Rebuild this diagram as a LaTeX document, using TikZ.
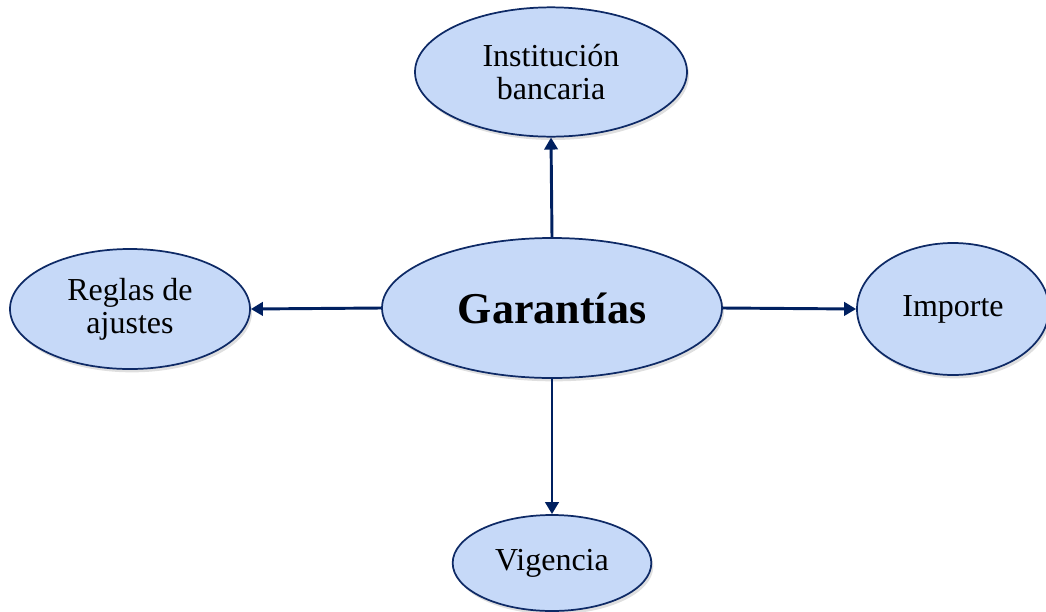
\documentclass[tikz,border=0pt]{standalone}
\usepackage{fontspec}
\setmainfont{Liberation Serif}
\usetikzlibrary{shapes.geometric,shadows,arrows.meta}
\definecolor{ellfill}{HTML}{C6D9F8}
\definecolor{navy}{HTML}{0E2A66}
\definecolor{arrowc}{HTML}{002060}
\begin{document}
\begin{tikzpicture}[x=0.75pt,y=-0.75pt,
  bubble/.style={ellipse,draw=navy,line width=1.3pt,fill=ellfill,inner sep=0pt,
    align=center,font=\fontsize{24}{25}\selectfont,
    drop shadow={opacity=0.25,shadow xshift=1.5pt,shadow yshift=-2.5pt}},
  conn/.style={draw=arrowc,line width=2.2pt,-{Triangle[length=9pt,width=10pt]}}]
\useasboundingbox (0,0) rectangle (1046,611);
\begin{scope}
\clip (0,0) rectangle (1046,611);
\node[bubble,minimum width=255pt,minimum height=105pt,font=\fontsize{33}{35}\selectfont\bfseries] (c) at (552,308) {Garantías};
\node[bubble,minimum width=204pt,minimum height=97pt] (t) at (551,72) {Institución\\bancaria};
\node[bubble,minimum width=180pt,minimum height=90pt] (l) at (130,309) {Reglas de\\ajustes};
\node[bubble,minimum width=144pt,minimum height=99pt] (r) at (953,309) {Importe};
\node[bubble,minimum width=149pt,minimum height=72pt] (b) at (552,563) {Vigencia};
\end{scope}
\draw[conn] (c.north) -- (t.south);
\draw[conn] (c.west) -- (l.east);
\draw[conn] (c.east) -- (r.west);
\draw[conn] (c.south) -- (b.north);
\end{tikzpicture}
\end{document}
